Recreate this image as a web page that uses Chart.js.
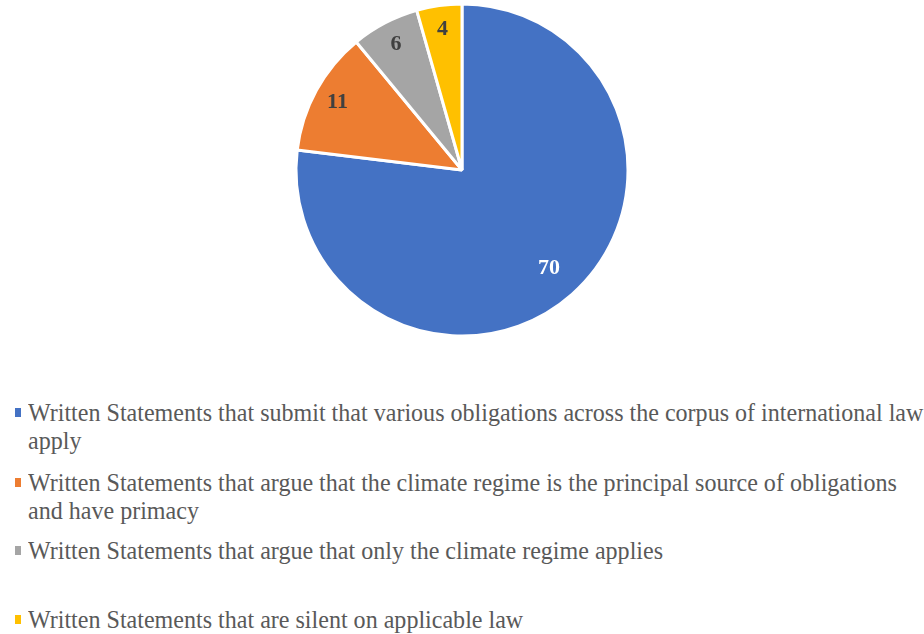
<!DOCTYPE html>
<html>
<head>
<meta charset="utf-8">
<script src="https://cdn.jsdelivr.net/npm/chart.js@4.4.0/dist/chart.umd.min.js"></script>
<style>
  body { margin: 0; background: #fff; width: 924px; height: 634px; overflow: hidden; position: relative; }
  #wrap { position: absolute; left: 0; top: 0; width: 924px; height: 340px; }
  .item { position: absolute; left: 28px; }
  .texto { display: block; width: 937px; transform: scaleX(0.962); transform-origin: 0 0;
           font-family: "Liberation Serif", "Times New Roman", serif;
           font-size: 25px; line-height: 28px; color: #595959; }
  .mark { position: absolute; left: -13px; top: 9px; width: 6px; height: 9px; }
</style>
</head>
<body>
<div id="wrap"><canvas id="pieChart" width="924" height="340"></canvas></div>
<div id="legend"></div>
<script>
const categorias = [
  "Written Statements that submit that various obligations across the corpus of international law apply",
  "Written Statements that argue that the climate regime is the principal source of obligations and have primacy",
  "Written Statements that argue that only the climate regime applies",
  "Written Statements that are silent on applicable law",
];
const valores = [70, 11, 6, 4];
const cores = ["#4472C4", "#ED7D31", "#A5A5A5", "#FFC000"];
const coresRotulo = ["#ffffff", "#404040", "#404040", "#404040"];

// legenda em HTML, com quebra de linha como no original
const topos = [399, 469, 537, 606];
const legenda = document.getElementById("legend");
categorias.forEach((texto, i) => {
  const div = document.createElement("div");
  div.className = "item";
  div.style.top = topos[i] + "px";
  div.innerHTML = '<span class="mark" style="background:' + cores[i] + '"></span>' +
    '<span class="texto">' + texto + '</span>';
  legenda.appendChild(div);
});

// rótulos de valor perto da borda de cada fatia
const rotulos = {
  id: "rotulos",
  afterDatasetsDraw(chart) {
    const ctx = chart.ctx;
    const meta = chart.getDatasetMeta(0);
    const total = valores.reduce((a, b) => a + b, 0);
    ctx.save();
    ctx.font = "bold 22px 'Liberation Serif', 'Times New Roman', serif";
    ctx.textAlign = "center";
    ctx.textBaseline = "middle";
    meta.data.forEach((arc, i) => {
      const meio = (arc.startAngle + arc.endAngle) / 2;
      const frac = valores[i] / total > 0.5 ? 0.79 : 0.855;
      const d = arc.outerRadius * frac;
      ctx.fillStyle = coresRotulo[i];
      ctx.fillText(String(valores[i]), arc.x + Math.cos(meio) * d, arc.y + Math.sin(meio) * d);
    });
    ctx.restore();
  },
};

const ctx = document.getElementById("pieChart").getContext("2d");
const grafico = new Chart(ctx, {
  type: "pie",
  data: {
    labels: categorias,
    datasets: [{
      data: valores,
      backgroundColor: cores,
      borderColor: "#ffffff",
      borderWidth: 3,
    }],
  },
  options: {
    responsive: false,
    animation: false,
    radius: 166,
    layout: { padding: 0 },
    plugins: { legend: { display: false }, tooltip: { enabled: false } },
  },
  plugins: [rotulos],
});
</script>
</body>
</html>
